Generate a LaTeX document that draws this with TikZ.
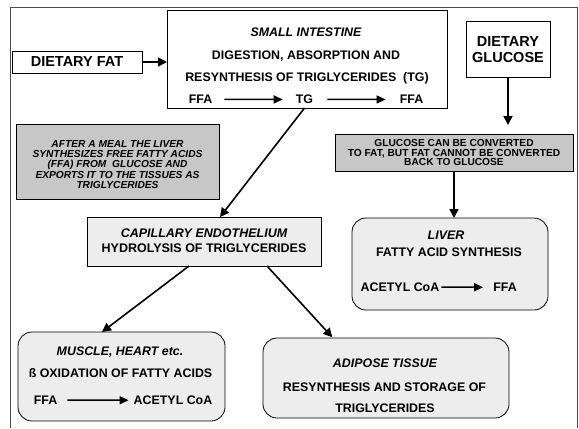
\documentclass[tikz,border=0pt]{standalone}
\usepackage{fontspec}
\setmainfont{Liberation Sans}
\usetikzlibrary{arrows.meta}
\begin{document}
\begin{tikzpicture}[x=1bp,y=-1bp,
  box/.style={draw, line width=0.8bp, inner sep=0, outer sep=0},
  plainbox/.style={box, fill=white},
  notebox/.style={box, fill=black!22},
  lightbox/.style={box, fill=black!7},
  roundbox/.style={box, fill=black!7, rounded corners=14bp},
  frameline/.style={draw=black!70, line width=0.8bp},
  bigtxt/.style={font=\bfseries\fontsize{14.5bp}{16bp}\selectfont},
  txt/.style={font=\bfseries\fontsize{12.4bp}{15bp}\selectfont, inner sep=0, anchor=base},
  ittxt/.style={font=\bfseries\itshape\fontsize{12.4bp}{15bp}\selectfont, inner sep=0, anchor=base},
  flow/.style={-{Triangle[length=9bp,width=9bp]}, line width=1.6bp},
  inflow/.style={-{Triangle[length=9bp,width=8bp]}, line width=1.5bp}
]
\useasboundingbox (0,0) rectangle (579,428);
% outer frame, open at the bottom
\draw[frameline] (10,428) -- (10,7) -- (577,7) -- (577,428);

% dietary inputs
\node[plainbox, bigtxt, minimum width=130bp, minimum height=22bp] (fat) at (77,62) {DIETARY FAT};
\node[plainbox, bigtxt, align=center, minimum width=84bp, minimum height=56bp] (gluc) at (508,49.5) {DIETARY\\GLUCOSE};

% small intestine
\node[plainbox, minimum width=280bp, minimum height=98bp] (si) at (307,59) {};
\node[ittxt] (sititle) at (306,36.5) {SMALL INTESTINE};
\node[txt] (siline1) at (306,59.5) {DIGESTION, ABSORPTION AND};
\node[txt] (siline2) at (307,81.7) {RESYNTHESIS OF TRIGLYCERIDES\ \ (TG)};
\node[txt] (ffaA) at (200.5,103.7) {FFA};
\node[txt] (tg) at (304.5,103.7) {TG};
\node[txt] (ffaB) at (411.5,103.7) {FFA};
\draw[inflow, shorten <=12bp, shorten >=13bp] (ffaA.east) -- (tg.west);
\draw[inflow, shorten <=14bp, shorten >=14bp] (tg.east) -- (ffaB.west);

% note boxes
\node[notebox, minimum width=203bp, minimum height=75bp] (meal) at (117.5,161.5) {};
\node[align=center, inner sep=0, font=\bfseries\itshape\fontsize{10.2bp}{10.2bp}\selectfont] (mealtxt) at (117.5,164.5)
  {AFTER A MEAL THE LIVER\\SYNTHESIZES FREE FATTY ACIDS\\(FFA) FROM\ \ GLUCOSE AND\\EXPORTS IT TO THE TISSUES AS\\TRIGLYCERIDES};
\node[notebox, align=center, minimum width=238bp, minimum height=37bp,
  font=\bfseries\fontsize{10.2bp}{9.6bp}\selectfont] (conv) at (454,152.5)
  {GLUCOSE CAN BE CONVERTED\\TO FAT, BUT FAT CANNOT BE CONVERTED\\BACK TO GLUCOSE};

% capillary endothelium
\node[lightbox, minimum width=234bp, minimum height=49bp] (cap) at (204,241.5) {};
\node[align=center, inner sep=0, font=\bfseries\fontsize{12.5bp}{15bp}\selectfont] (captxt) at (204,240.5)
  {{\itshape CAPILLARY ENDOTHELIUM}\\HYDROLYSIS OF TRIGLYCERIDES};

% liver
\node[roundbox, minimum width=196bp, minimum height=92bp] (liver) at (450,264) {};
\node[ittxt] (livertitle) at (446,239.5) {LIVER};
\node[txt] (liverline) at (449,256.5) {FATTY ACID SYNTHESIS};
\node[txt] (acetylA) at (400,291.5) {ACETYL CoA};
\node[txt] (ffaC) at (505,291.5) {FFA};
\draw[inflow, shorten <=2bp, shorten >=10bp] (acetylA.east) -- (ffaC.west);

% muscle and heart
\node[roundbox, minimum width=207bp, minimum height=89bp] (muscle) at (121.5,376.5) {};
\node[ittxt] (muscletitle) at (120,355.5) {MUSCLE, HEART etc.};
\node[txt] (muscleline) at (120.5,377.5) {ß OXIDATION OF FATTY ACIDS};
\node[txt] (ffaD) at (45.5,404.5) {FFA};
\node[txt] (acetylB) at (173,404.5) {ACETYL CoA};
\draw[inflow, shorten <=10bp, shorten >=5bp] (ffaD.east) -- (acetylB.west);

% adipose tissue
\node[roundbox, minimum width=246bp, minimum height=80bp] (adipose) at (386,378) {};
\node[ittxt] (adiposetitle) at (385,367.5) {ADIPOSE TISSUE};
\node[txt] (adiposeline1) at (384.5,391.5) {RESYNTHESIS AND STORAGE OF};
\node[txt] (adiposeline2) at (385,412.5) {TRIGLYCERIDES};

% connectors
\draw[flow] (fat.east) -- (fat.east -| si.west);
\draw[flow, shorten >=9bp] (gluc.south) -- (gluc.south |- conv.north);
\draw[flow] (conv.south) -- (conv.south |- liver.north);
\draw[flow] (tg |- si.south) -- ([xshift=16bp]cap.north);
\draw[flow] ([xshift=-15bp]cap.south) -- ([xshift=-19.5bp]muscle.north);
\draw[flow, shorten >=1bp] ([xshift=63bp]cap.south) -- ([xshift=-53bp]adipose.north);
\end{tikzpicture}
\end{document}
